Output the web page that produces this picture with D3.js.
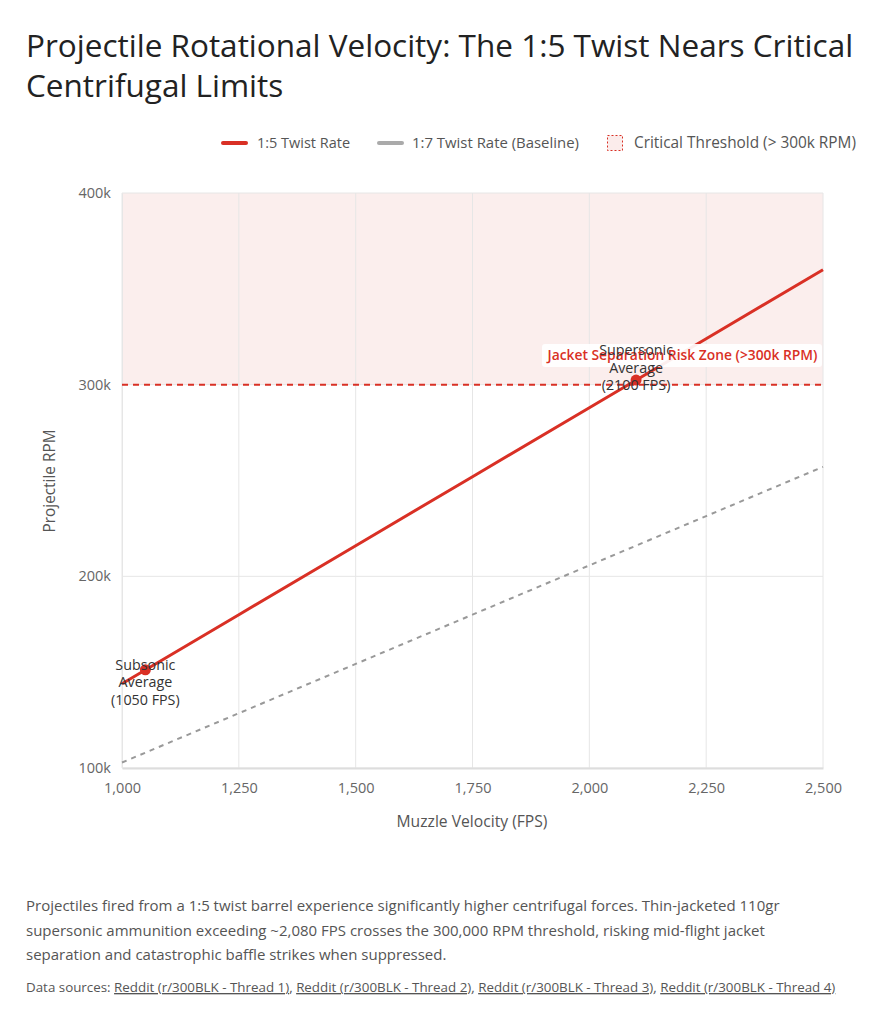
<!DOCTYPE html>
<html><head><meta charset="utf-8">
<script src="https://cdn.jsdelivr.net/npm/d3@7"></script>
<style>
body{margin:0;background:#fff;}
svg{font-family:"Open Sans",Roboto,sans-serif;}
</style></head>
<body>
<svg id="chart" width="883" height="1024"></svg>
<script>
const fpsValues = [1000, 1250, 1500, 1750, 2000, 2250, 2500];
const rpmTwist5 = [144000, 180000, 216000, 252000, 288000, 324000, 360000];
const rpmTwist7 = [102857, 128571, 154286, 180000, 205714, 231429, 257143];
const markerFps = [1050, 2100];
const markerRpm = [151200, 302400];
const markerLabels = [["Subsonic","Average","(1050 FPS)"],["Supersonic","Average","(2100 FPS)"]];
const xTicks = [1000, 1250, 1500, 1750, 2000, 2250, 2500];
const yTicks = [100000, 200000, 300000, 400000];
const threshold = 300000;
const legendLabels = ["1:5 Twist Rate", "1:7 Twist Rate (Baseline)", "Critical Threshold (> 300k RPM)"];
const sources = ["Reddit (r/300BLK - Thread 1)","Reddit (r/300BLK - Thread 2)","Reddit (r/300BLK - Thread 3)","Reddit (r/300BLK - Thread 4)"];

(function(){
const svg = d3.select("#chart");
const red = "#d93025";
const pl = 122, pr = 823, pt = 193, pb = 768;
const x = d3.scaleLinear().domain([1000, 2500]).range([pl, pr]);
const y = d3.scaleLinear().domain([100000, 400000]).range([pb, pt]);

// scale a text's font-size so its width matches a target
function fit(sel, target){
  const n = sel.node();
  const fs = parseFloat(sel.attr("font-size"));
  const w = n.getComputedTextLength();
  if (w > 0) sel.attr("font-size", (fs*target/w).toFixed(2));
  return sel;
}

// Title
const t1 = svg.append("text").attr("x", 26).attr("y", 57).attr("font-size", 29).attr("fill", "#222").text("Projectile Rotational Velocity: The 1:5 Twist Nears Critical");
fit(t1, 827);
svg.append("text").attr("x", 26).attr("y", 97).attr("font-size", t1.attr("font-size")).attr("fill", "#222").text("Centrifugal Limits");

// Legend
const lg = svg.append("g").attr("fill", "#555");
lg.append("line").attr("x1",223).attr("x2",246).attr("y1",143).attr("y2",143).attr("stroke",red).attr("stroke-width",4).attr("stroke-linecap","round");
fit(lg.append("text").attr("x",257).attr("y",148).attr("font-size",14).text(legendLabels[0]), 93);
lg.append("line").attr("x1",379).attr("x2",402).attr("y1",143).attr("y2",143).attr("stroke","#aaa").attr("stroke-width",4).attr("stroke-linecap","round");
fit(lg.append("text").attr("x",412).attr("y",148).attr("font-size",14).text(legendLabels[1]), 167);
lg.append("rect").attr("x",607.5).attr("y",135.5).attr("width",15).attr("height",15).attr("fill","#fbeceb").attr("stroke",red).attr("stroke-dasharray","2,2").attr("stroke-width",1);
fit(lg.append("text").attr("x",634).attr("y",148).attr("font-size",14).text(legendLabels[2]), 222);

// Danger zone
svg.append("rect").attr("x", pl).attr("y", y(400000)).attr("width", pr-pl).attr("height", y(threshold)-y(400000)).attr("fill","#fbeeed");

// Grid
svg.append("g").selectAll("line").data(xTicks).join("line")
  .attr("x1", d=>x(d)).attr("x2", d=>x(d)).attr("y1", pt).attr("y2", pb)
  .attr("stroke","#e6e6e6").attr("stroke-width",1);
svg.append("g").selectAll("line").data(yTicks).join("line")
  .attr("x1", pl).attr("x2", pr).attr("y1", d=>y(d)).attr("y2", d=>y(d))
  .attr("stroke","#e6e6e6").attr("stroke-width",1);

// Axes
const xAxis = svg.append("g").attr("transform", `translate(0,${pb})`)
  .call(d3.axisBottom(x).tickValues(xTicks).tickFormat(d3.format(",")).tickSize(0).tickPadding(15));
xAxis.select(".domain").attr("stroke","#ddd").attr("stroke-width",2);
xAxis.selectAll("text").attr("font-size",14.5).attr("fill","#666").attr("font-family","'Open Sans', sans-serif");
const yAxis = svg.append("g").attr("transform", `translate(${pl},0)`)
  .call(d3.axisLeft(y).tickValues(yTicks).tickFormat(d=>d/1000+"k").tickSize(0).tickPadding(11));
yAxis.select(".domain").attr("stroke","#e6e6e6");
yAxis.selectAll("text").attr("font-size",14.5).attr("fill","#666").attr("font-family","'Open Sans', sans-serif");

fit(svg.append("text").attr("x",472).attr("y",827).attr("text-anchor","middle").attr("font-size",14).attr("fill","#555").text("Muzzle Velocity (FPS)"), 151);
fit(svg.append("text").attr("transform",`translate(55,481) rotate(-90)`).attr("text-anchor","middle").attr("font-size",14).attr("fill","#555").text("Projectile RPM"), 103);

// Threshold line
svg.append("line").attr("x1",pl).attr("x2",pr).attr("y1",y(threshold)).attr("y2",y(threshold))
  .attr("stroke",red).attr("stroke-width",2).attr("stroke-dasharray","6,5");

// Lines
const line = d3.line().x((d,i)=>x(fpsValues[i])).y(d=>y(d));
svg.append("path").datum(rpmTwist7).attr("d", line).attr("fill","none").attr("stroke","#999").attr("stroke-width",2).attr("stroke-dasharray","5,5");
svg.append("path").datum(rpmTwist5).attr("d", line).attr("fill","none").attr("stroke",red).attr("stroke-width",3);

// Markers
svg.append("g").selectAll("circle").data(markerFps).join("circle")
  .attr("cx", d=>x(d)).attr("cy",(d,i)=>y(markerRpm[i])).attr("r",5.5).attr("fill",red);

// Zone label
const zl = svg.append("g");
zl.append("rect").attr("x",542).attr("y",344).attr("width",280).attr("height",23).attr("rx",3).attr("fill","#fff").attr("opacity",0.92);
fit(zl.append("text").attr("x",682.5).attr("y",360).attr("text-anchor","middle").attr("font-size",13).attr("font-weight",600).attr("fill",red).text("Jacket Separation Risk Zone (>300k RPM)"), 270);

// Marker labels
const labelOffsets = [0, -25];
markerFps.forEach((f,i)=>{
  const t = svg.append("text").attr("text-anchor","middle").attr("font-size",14.3).attr("fill","#333");
  markerLabels[i].forEach((s,j)=>{
    t.append("tspan").attr("x", x(f)).attr("y", y(markerRpm[i]) + labelOffsets[i] + j*17.5).text(s);
  });
});

// Footer
const lines = ["Projectiles fired from a 1:5 twist barrel experience significantly higher centrifugal forces. Thin-jacketed 110gr",
 "supersonic ammunition exceeding ~2,080 FPS crosses the 300,000 RPM threshold, risking mid-flight jacket",
 "separation and catastrophic baffle strikes when suppressed."];
const f0 = fit(svg.append("text").attr("x",26).attr("y",911).attr("font-size",15).attr("fill","#555").text(lines[0]), 754);
lines.slice(1).forEach((s,j)=>{
  svg.append("text").attr("x",26).attr("y",935.5+j*24.5).attr("font-size",f0.attr("font-size")).attr("fill","#555").text(s);
});
const ds = svg.append("text").attr("x",26).attr("y",992).attr("font-size",12).attr("fill","#555");
ds.append("tspan").text("Data sources: ");
sources.forEach((s,i)=>{
  ds.append("tspan").attr("text-decoration","underline").text(s);
  if(i<sources.length-1) ds.append("tspan").text(", ");
});
fit(ds, 810);
})();
</script>
</body></html>
